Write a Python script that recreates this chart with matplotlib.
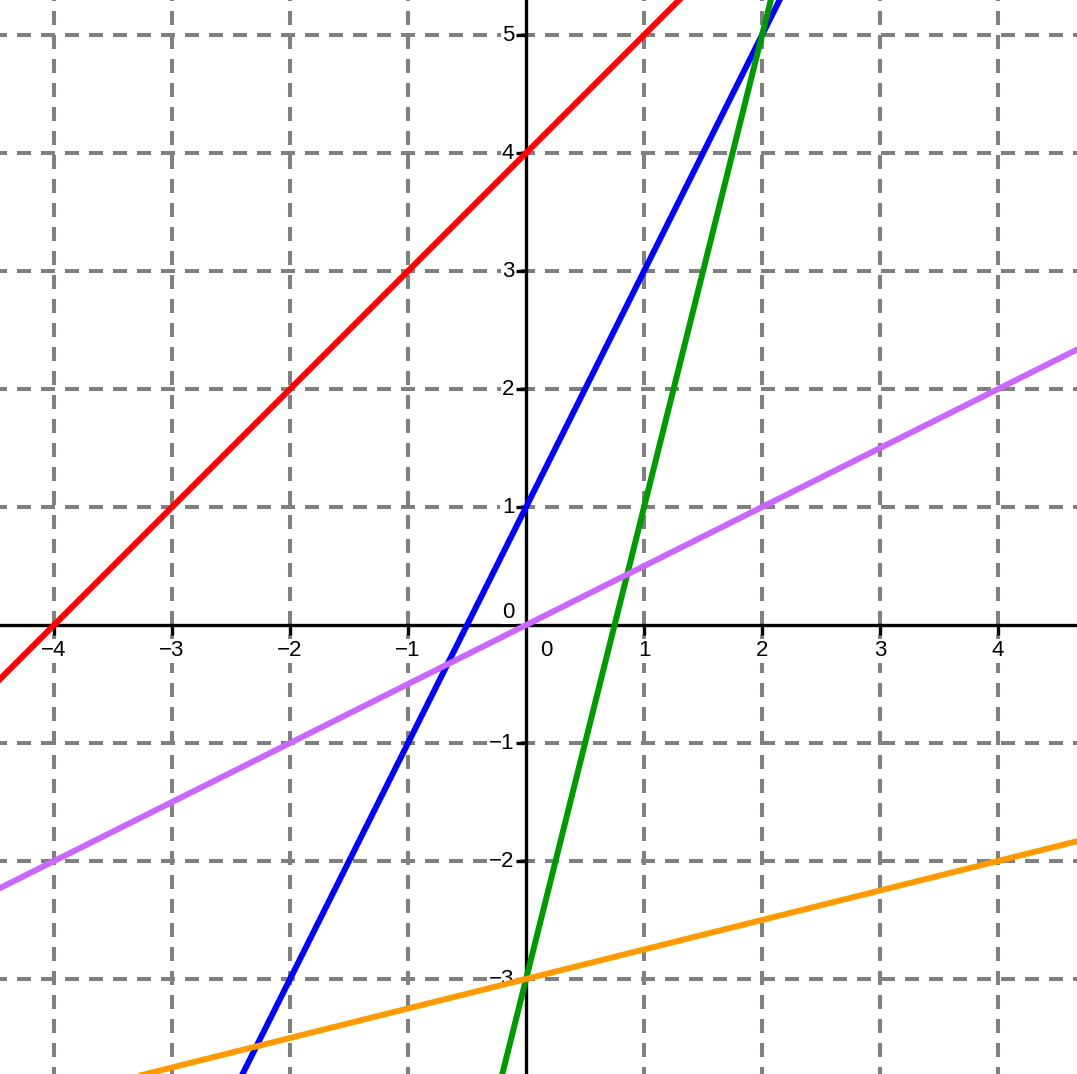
import numpy as np
import matplotlib
matplotlib.use("Agg")
import matplotlib.pyplot as plt

plt.rcParams['font.family'] = ['Liberation Sans', 'DejaVu Sans']
plt.rcParams['lines.scale_dashes'] = False

# Lines y = m*x + b
line_slopes = [1.0, 2.0, 4.0, 0.5, 0.25]
line_intercepts = [4.0, 1.0, -3.0, 0.0, -3.0]
line_colors = ['#ff0000', '#0000ff', '#009900', '#cc66ff', '#ff9900']

x_ticks = [-4, -3, -2, -1, 1, 2, 3, 4]
y_ticks = [-3, -2, -1, 1, 2, 3, 4, 5]

xmin, xmax = -4.458, 4.669
ymin, ymax = -3.805, 5.297

fig = plt.figure(figsize=(10.77, 10.74), dpi=100)
ax = fig.add_axes([0, 0, 1, 1])
ax.set_xlim(xmin, xmax)
ax.set_ylim(ymin, ymax)
ax.axis('off')

grid_kw = dict(color='#808080', lw=2.9, linestyle=(5.04, (10.08, 7.2)), zorder=1)
for gx in x_ticks:
    ax.axvline(gx, **grid_kw)
for gy in y_ticks:
    ax.axhline(gy, **grid_kw)

ax.axhline(0, color='black', lw=2.4, zorder=2)
ax.axvline(0, color='black', lw=2.4, zorder=2)

# small tick marks (outward)
tl = 0.085
for gx in x_ticks:
    ax.plot([gx, gx], [0, -tl], color='black', lw=2.4, zorder=2, solid_capstyle='butt')
for gy in y_ticks:
    ax.plot([0, -tl], [gy, gy], color='black', lw=2.4, zorder=2, solid_capstyle='butt')

fs = 16
bb = dict(facecolor='white', edgecolor='none', pad=1.0)
for gx in x_ticks:
    lab = str(gx).replace('-', '\u2212')
    ax.text(gx, -0.22, lab, ha='center', va='center', fontsize=fs, zorder=3, bbox=bb)
ax.text(0.17, -0.22, '0', ha='center', va='center', fontsize=fs, zorder=3, bbox=bb)
for gy in y_ticks:
    lab = str(gy).replace('-', '\u2212')
    ax.text(-0.10, gy, lab, ha='right', va='center', fontsize=fs, zorder=3, bbox=bb)
ax.text(-0.10, 0.11, '0', ha='right', va='center', fontsize=fs, zorder=3, bbox=bb)

xs = np.array([xmin - 1, xmax + 1])
for m, b, c in zip(line_slopes, line_intercepts, line_colors):
    ax.plot(xs, m * xs + b, color=c, lw=4.3, zorder=4)

fig.savefig('out.png', dpi=100)
